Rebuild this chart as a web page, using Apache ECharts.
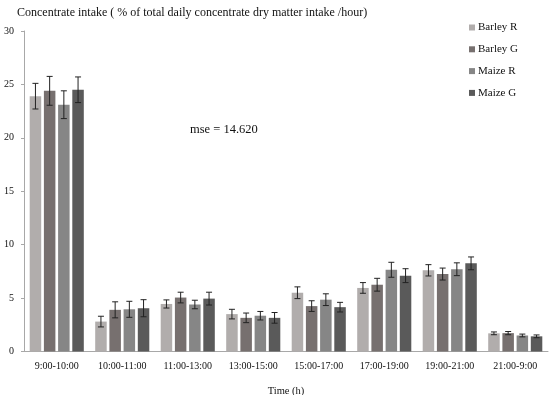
<!DOCTYPE html>
<html>
<head>
<meta charset="utf-8">
<script src="https://cdn.jsdelivr.net/npm/echarts@6/dist/echarts.min.js"></script>
<style>html,body{margin:0;padding:0;background:#fff}#c{width:550px;height:395px}</style>
</head>
<body>
<div id="c"></div>
<script>
var categories = ['9:00-10:00','10:00-11:00','11:00-13:00','13:00-15:00','15:00-17:00','17:00-19:00','19:00-21:00','21:00-9:00'];
var seriesNames = ['Barley R','Barley G','Maize R','Maize G'];
var barleyR = [23.9, 2.8, 4.45, 3.5, 5.5, 5.95, 7.6, 1.7];
var barleyG = [24.4, 3.9, 5.05, 3.15, 4.25, 6.25, 7.25, 1.72];
var maizeR  = [23.1, 3.95, 4.4, 3.35, 4.85, 7.65, 7.7, 1.5];
var maizeG  = [24.5, 4.05, 4.95, 3.15, 4.15, 7.1, 8.25, 1.42];
var barleyRErr = [1.2, 0.5, 0.38, 0.45, 0.55, 0.5, 0.53, 0.13];
var barleyGErr = [1.35, 0.75, 0.5, 0.45, 0.5, 0.6, 0.56, 0.15];
var maizeRErr  = [1.3, 0.75, 0.4, 0.4, 0.55, 0.7, 0.6, 0.13];
var maizeGErr  = [1.2, 0.8, 0.6, 0.5, 0.45, 0.65, 0.6, 0.13];
var yTicks = [0, 5, 10, 15, 20, 25, 30];

var values = [barleyR, barleyG, maizeR, maizeG];
var errs = [barleyRErr, barleyGErr, maizeRErr, maizeGErr];
var colors = ['#b1adac', '#77706f', '#868686', '#5a5a5a'];
var FONT = 'Liberation Serif';
var TXT = '#111';
var BW = 11.5, GAP = 2.7;

var series = [];
values.forEach(function (v, i) {
  series.push({
    name: seriesNames[i], type: 'bar', data: v, barWidth: BW, barGap: (GAP / BW * 100) + '%',
    itemStyle: { color: colors[i] }, silent: true
  });
});
values.forEach(function (v, i) {
  series.push({
    type: 'custom', silent: true, z: 5,
    data: v.map(function (val, k) { return [k, val, errs[i][k]]; }),
    renderItem: function (params, api) {
      var k = api.value(0), val = api.value(1), e = api.value(2);
      var off = (i - 1.5) * (BW + GAP);
      var hi = api.coord([k, val + e]);
      var lo = api.coord([k, val - e]);
      var x = hi[0] + off;
      var cw = 3;
      var st = { stroke: '#222', lineWidth: 1 };
      return { type: 'group', children: [
        { type: 'line', shape: { x1: x, y1: hi[1], x2: x, y2: lo[1] }, style: st },
        { type: 'line', shape: { x1: x - cw, y1: hi[1], x2: x + cw, y2: hi[1] }, style: st },
        { type: 'line', shape: { x1: x - cw, y1: lo[1], x2: x + cw, y2: lo[1] }, style: st }
      ]};
    },
    encode: { x: 0, y: 1 }
  });
});

var chart = echarts.init(document.getElementById('c'));
chart.setOption({
  animation: false,
  textStyle: { fontFamily: FONT },
  grid: { left: 24, right: 2, top: 31, bottom: 43.5, outerBoundsMode: 'none', containLabel: false },
  title: { text: 'Concentrate intake ( % of total daily concentrate dry matter intake /hour)', left: 12, top: 2,
    textStyle: { fontFamily: FONT, fontSize: 12, fontWeight: 'normal', color: TXT } },
  legend: {
    data: seriesNames, orient: 'vertical', left: 464, top: 17, itemGap: 10.8,
    itemWidth: 6, itemHeight: 6, icon: 'rect', selectedMode: false,
    textStyle: { fontFamily: FONT, fontSize: 11, color: TXT, padding: [0, 0, 0, -2] }
  },
  xAxis: {
    type: 'category', data: categories, name: 'Time (h)', nameLocation: 'middle', nameGap: 34,
    nameTextStyle: { fontFamily: FONT, fontSize: 10.5, color: TXT },
    axisLine: { lineStyle: { color: '#a8a8a8' } },
    axisTick: { length: 4, lineStyle: { color: '#a8a8a8' } },
    axisLabel: { fontFamily: FONT, fontSize: 10, color: TXT, margin: 10, interval: 0 }
  },
  yAxis: {
    type: 'value', min: yTicks[0], max: yTicks[yTicks.length - 1], interval: 5,
    axisLine: { show: true, lineStyle: { color: '#a8a8a8' } },
    axisTick: { show: true, length: 3, lineStyle: { color: '#a8a8a8' } },
    splitLine: { show: false },
    axisLabel: { fontFamily: FONT, fontSize: 10, color: TXT, margin: 10 }
  },
  graphic: [{ type: 'text', left: 190, top: 123, style: { text: 'mse = 14.620', fontFamily: FONT, fontSize: 12.5, fill: TXT } }],
  series: series
});
</script>
</body>
</html>
